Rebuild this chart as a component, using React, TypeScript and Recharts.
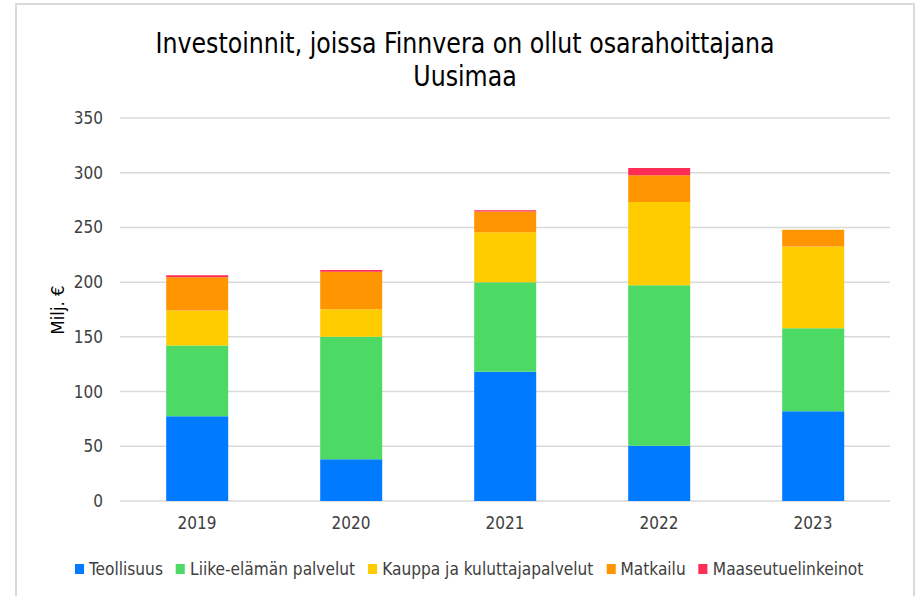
import { BarChart, Bar, XAxis, YAxis, CartesianGrid, Label } from "recharts";

const years = ["2019", "2020", "2021", "2022", "2023"];
const teollisuus = [77.4, 38.1, 118.1, 50.5, 82.1];
const liike = [64.6, 112.1, 81.9, 146.7, 75.8];
const kauppa = [32.0, 25.0, 45.7, 76.1, 74.6];
const matkailu = [30.5, 34.4, 18.8, 24.4, 15.4];
const maaseutu = [1.8, 1.6, 1.3, 6.7, 0];
const yTicks = [0, 50, 100, 150, 200, 250, 300, 350];

const series = [
  { key: "teollisuus", name: "Teollisuus", color: "#007AFF" },
  { key: "liike", name: "Liike-elämän palvelut", color: "#4CD964" },
  { key: "kauppa", name: "Kauppa ja kuluttajapalvelut", color: "#FFCC00" },
  { key: "matkailu", name: "Matkailu", color: "#FF9500" },
  { key: "maaseutu", name: "Maaseutuelinkeinot", color: "#FF2D55" },
];

const data = years.map((y, i) => ({
  year: y,
  teollisuus: teollisuus[i],
  liike: liike[i],
  kauppa: kauppa[i],
  matkailu: matkailu[i],
  maaseutu: maaseutu[i],
}));

const FONT = "'DejaVu Sans Condensed', 'DejaVu Sans', sans-serif";

function LegendRow() {
  return (
    <div style={{ position: "absolute", left: 75, top: 557, display: "flex", alignItems: "center", fontFamily: FONT, fontSize: 17, lineHeight: "24px", color: "#404040", transform: "scaleX(1.007)", transformOrigin: "0 0", whiteSpace: "nowrap" }}>
      {series.map((s, i) => (
        <div key={s.key} style={{ display: "flex", alignItems: "center", marginRight: i < series.length - 1 ? 13 : 0 }}>
          <span style={{ display: "inline-block", width: 9, height: 10, background: s.color, marginRight: 5 }} />
          <span>{s.name}</span>
        </div>
      ))}
    </div>
  );
}

export default function App() {
  return (
    <div style={{ position: "absolute", left: 0, top: 0, width: 916, height: 596, background: "#fff", overflow: "hidden" }}>
      <div style={{ position: "absolute", left: 15, top: 3, width: 896, height: 640, border: "2px solid #d9d9d9" }} />
      <div style={{ position: "absolute", left: 0, top: 27, width: 930, textAlign: "center", fontFamily: FONT, fontSize: 28, lineHeight: "33px", color: "#000", transform: "scaleX(0.94)", transformOrigin: "465px 0" }}>
        <div>Investoinnit, joissa Finnvera on ollut osarahoittajana</div>
        <div>Uusimaa</div>
      </div>
      <div style={{ position: "absolute", left: 0, top: 0 }}>
        <BarChart width={916} height={596} data={data} margin={{ top: 118, right: 26, bottom: 65, left: 60 }} barCategoryGap="30%">
          <CartesianGrid vertical={false} stroke="#d9d9d9" strokeWidth={1.5} />
          <XAxis dataKey="year" axisLine={false} tickLine={false} tickMargin={10} height={30}
            tick={{ fontFamily: FONT, fontSize: 17, fill: "#404040" }} />
          <YAxis domain={[0, 350]} ticks={yTicks} axisLine={false} tickLine={false} tickMargin={11} width={60}
            tick={{ fontFamily: FONT, fontSize: 17, fill: "#404040" }}>
            <Label content={() => (
              <text x={57} y={310} transform="rotate(-90 57 310)" textAnchor="middle" dominantBaseline="central"
                style={{ fontFamily: FONT, fontSize: 18.5, fill: "#000" }}>Milj. €</text>
            )} />
          </YAxis>
          {series.map((s) => (
            <Bar key={s.key} dataKey={s.key} name={s.name} stackId="a" fill={s.color} isAnimationActive={false} />
          ))}
        </BarChart>
      </div>
      <LegendRow />
    </div>
  );
}
